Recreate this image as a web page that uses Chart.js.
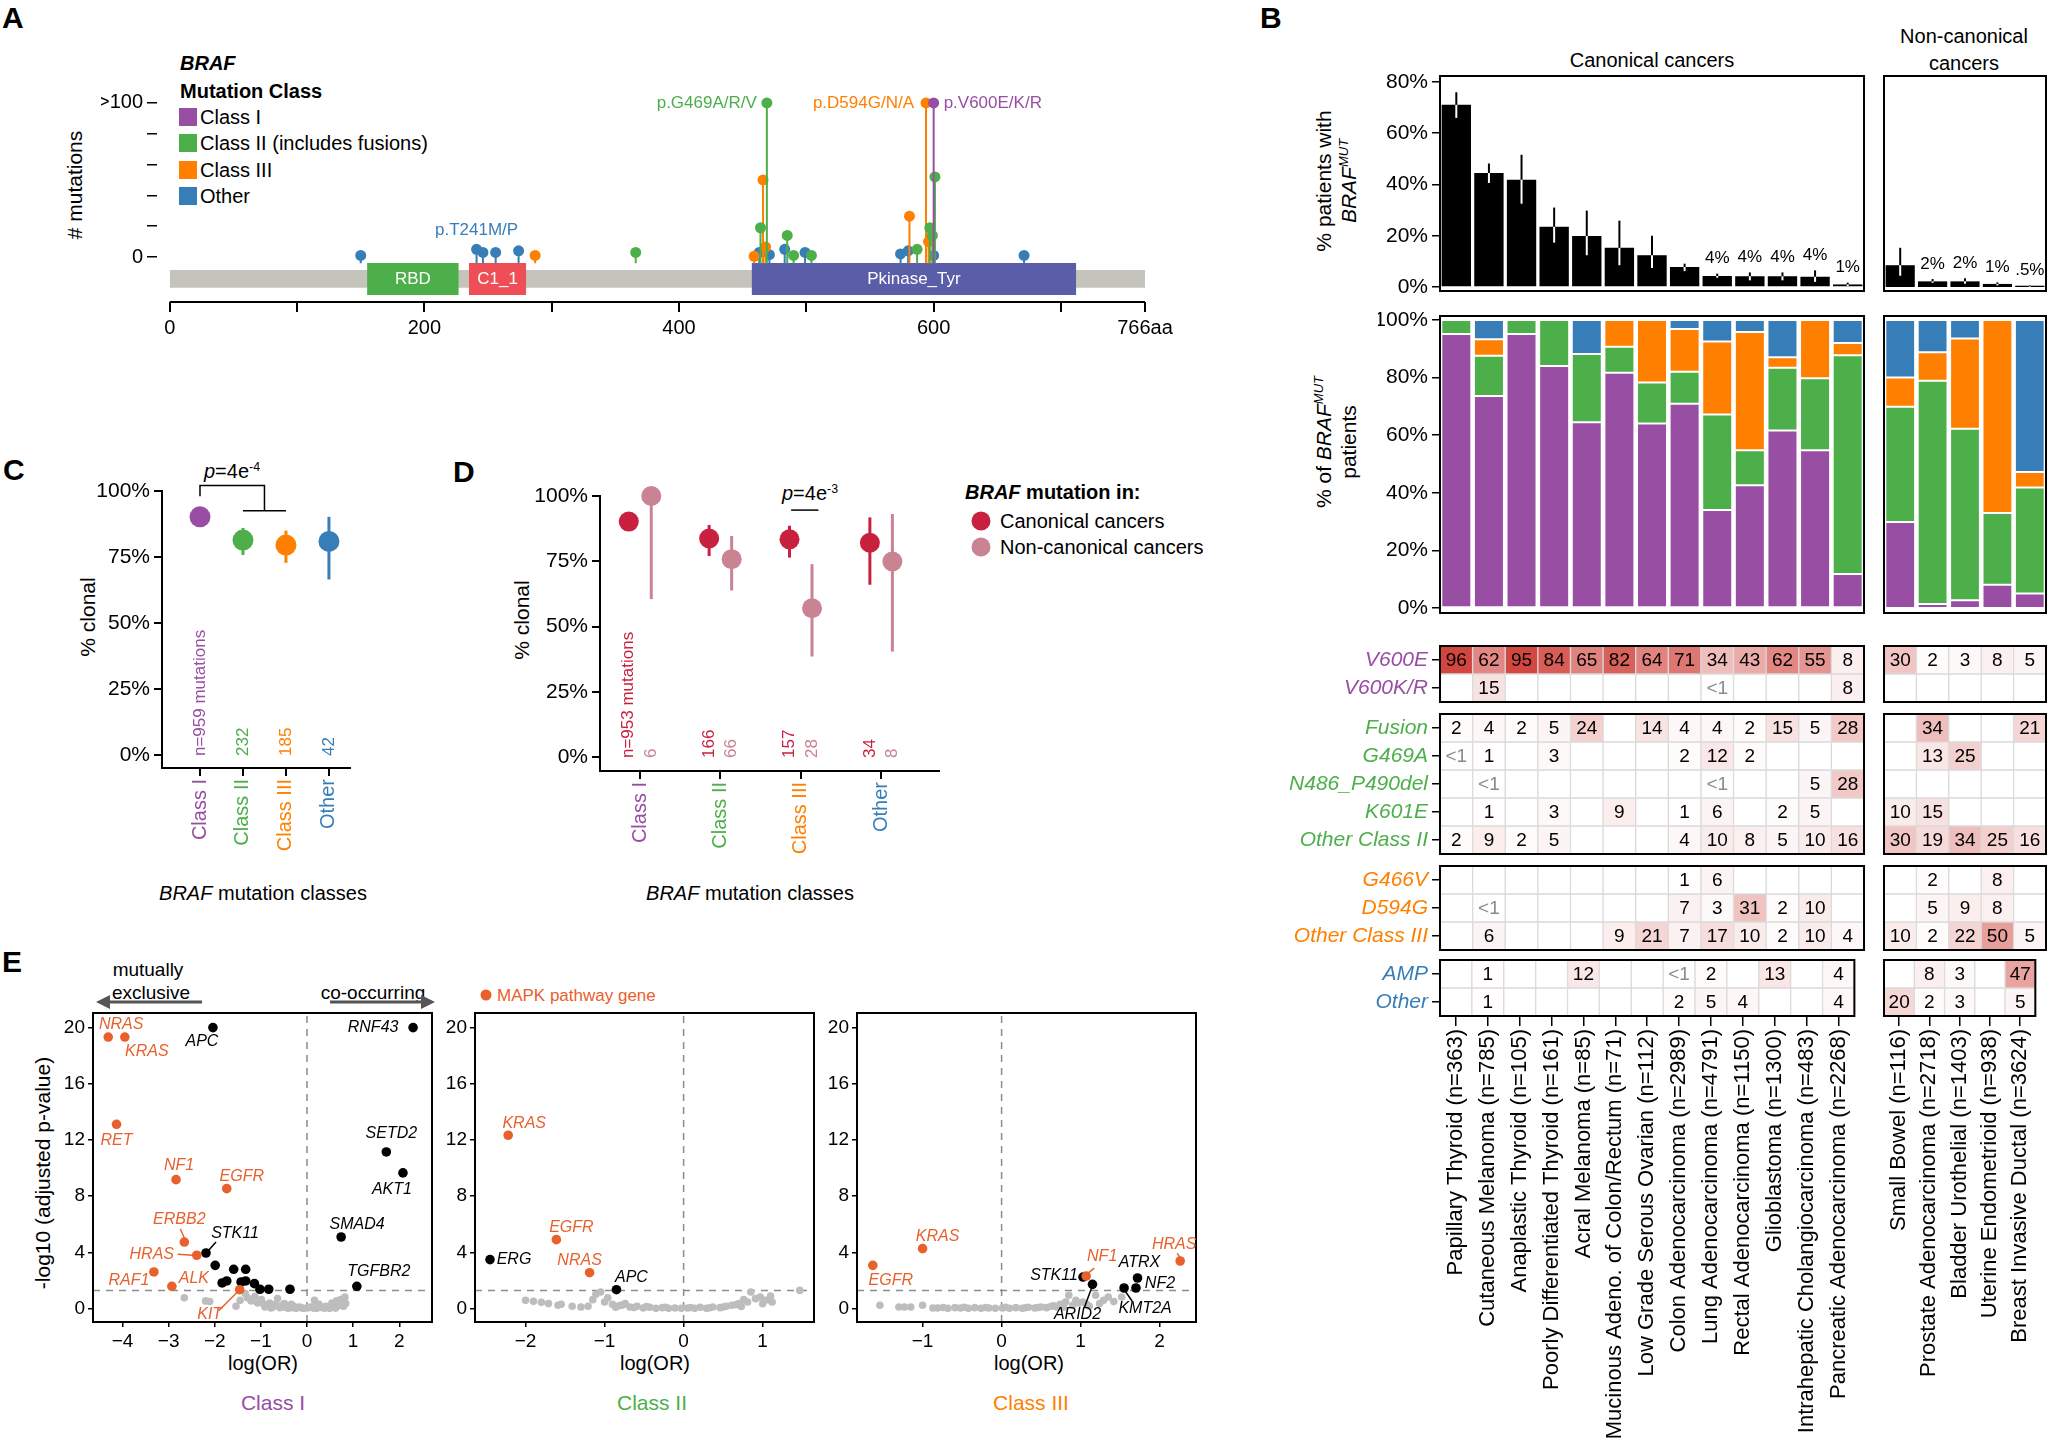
<!DOCTYPE html>
<html lang="en">
<head>
<meta charset="UTF-8" />
<title>BRAF mutation classes across cancers</title>
<script src="https://cdn.jsdelivr.net/npm/chart.js"></script>
<style>
  body { margin: 0; background: #fff; }
  #page { position: relative; width: 2048px; height: 1438px; overflow: hidden; background: #fff;
          font-family: "Liberation Sans", Arial, sans-serif; color: #000; }
  #page canvas { position: absolute; }
  .t { position: absolute; white-space: nowrap; line-height: 1; font-size: 20px; }
  .c { transform: translate(-50%, -50%); text-align: center; }
  .l { transform: translate(0, -50%); }
  .v { transform: translate(-50%, -50%) rotate(-90deg); text-align: center; line-height: 1.2; }
  .letter { font-size: 30px; font-weight: bold; }
  .sw { position: absolute; width: 18px; height: 18px; transform: translate(0, -50%); }
  .dot { position: absolute; border-radius: 50%; transform: translate(-50%, -50%); }
  sup { font-size: 0.62em; vertical-align: 0.6em; line-height: 0; }
</style>
</head>
<body>
<div id="page">
  <div class="t l letter" style="left:2px;top:18px">A</div>
  <div class="t l letter" style="left:1260px;top:18px">B</div>
  <div class="t l letter" style="left:3px;top:470px">C</div>
  <div class="t l letter" style="left:453px;top:472px">D</div>
  <div class="t l letter" style="left:2px;top:962px">E</div>

  <!-- A: legend and axis title -->
  <div class="t l" style="left:180px;top:63px;font-weight:bold;font-style:italic">BRAF</div>
  <div class="t l" style="left:180px;top:91px;font-weight:bold">Mutation Class</div>
  <div class="sw" style="left:179px;top:117px;background:#984ea3"></div>
  <div class="t l" style="left:200px;top:117px">Class I</div>
  <div class="sw" style="left:179px;top:143px;background:#4daf4a"></div>
  <div class="t l" style="left:200px;top:143px">Class II (includes fusions)</div>
  <div class="sw" style="left:179px;top:170px;background:#ff7f00"></div>
  <div class="t l" style="left:200px;top:170px">Class III</div>
  <div class="sw" style="left:179px;top:196px;background:#377eb8"></div>
  <div class="t l" style="left:200px;top:196px">Other</div>
  <div class="t v" style="left:75px;top:185px;font-size:21px"># mutations</div>

  <!-- B: titles -->
  <div class="t c" style="left:1652px;top:60px">Canonical cancers</div>
  <div class="t c" style="left:1964px;top:36px">Non-canonical</div>
  <div class="t c" style="left:1964px;top:63px">cancers</div>
  <div class="t v" style="left:1336px;top:181px;font-size:21px">% patients with<br><i>BRAF<sup>MUT</sup></i></div>
  <div class="t v" style="left:1336px;top:442px;font-size:21px">% of <i>BRAF<sup>MUT</sup></i><br>patients</div>

  <!-- C -->
  <div class="t v" style="left:88px;top:617px;font-size:21px">% clonal</div>
  <div class="t c" style="left:263px;top:893px"><i>BRAF</i> mutation classes</div>
  <div class="t c" style="left:232px;top:471px"><i>p</i>=4e<sup>-4</sup></div>

  <!-- D -->
  <div class="t v" style="left:522px;top:620px;font-size:21px">% clonal</div>
  <div class="t c" style="left:750px;top:893px"><i>BRAF</i> mutation classes</div>
  <div class="t c" style="left:810px;top:493px"><i>p</i>=4e<sup>-3</sup></div>
  <div class="t l" style="left:965px;top:492px;font-weight:bold"><i>BRAF</i> mutation in:</div>
  <div class="dot" style="left:981px;top:521px;width:19px;height:19px;background:#c8203f"></div>
  <div class="t l" style="left:1000px;top:521px">Canonical cancers</div>
  <div class="dot" style="left:981px;top:547px;width:19px;height:19px;background:#c98393"></div>
  <div class="t l" style="left:1000px;top:547px">Non-canonical cancers</div>

  <!-- E -->
  <div class="t c" style="left:148px;top:969px;font-size:19px">mutually</div>
  <div class="t c" style="left:151px;top:992px;font-size:19px">exclusive</div>
  <div class="t c" style="left:373px;top:992px;font-size:19px">co-occurring</div>
  <svg width="2048" height="1438" style="position:absolute;left:0;top:0">
    <g stroke="#555" stroke-width="3" fill="#555">
      <line x1="202" y1="1002" x2="108" y2="1002"/>
      <polygon points="96,1002 110,995 110,1009" stroke="none"/>
      <line x1="330" y1="1002" x2="423" y2="1002"/>
      <polygon points="435,1002 421,995 421,1009" stroke="none"/>
    </g>
  </svg>
  <div class="t v" style="left:43px;top:1173px;font-size:21px">-log10 (adjusted p-value)</div>
  <div class="t c" style="left:263px;top:1363px">log(OR)</div>
  <div class="t c" style="left:655px;top:1363px">log(OR)</div>
  <div class="t c" style="left:1029px;top:1363px">log(OR)</div>
  <div class="t c" style="left:273px;top:1402px;font-size:21px;color:#984ea3">Class I</div>
  <div class="t c" style="left:652px;top:1402px;font-size:21px;color:#4daf4a">Class II</div>
  <div class="t c" style="left:1031px;top:1402px;font-size:21px;color:#ff7f00">Class III</div>
  <div class="dot" style="left:486px;top:995px;width:11px;height:11px;background:#e8602c"></div>
  <div class="t l" style="left:497px;top:995px;font-size:17px;color:#e8602c">MAPK pathway gene</div>
</div>

<script>
  // ---------- A: lollipop plot ----------
  const proteinLength = 766;
  const domainNames = ['RBD', 'C1_1', 'Pkinase_Tyr'];
  const domainStart = [155, 235, 457];
  const domainEnd = [227, 280, 712];
  const mutPos   = [150, 241, 246, 256, 274, 287, 366, 459, 463, 464, 466, 468, 469, 471, 483, 485, 490, 499, 504, 574, 580, 581, 587, 594, 596, 597, 599, 600, 600, 601, 671];
  const mutCount = [1, 5, 3, 3, 4, 1, 3, 0.5, 3, 19, 50, 6.5, 100, 1.5, 5, 14, 1, 3, 1, 2, 4, 26.5, 5, 100, 10, 19, 14, 1, 100, 52, 1];
  const mutClass = ['Other', 'Other', 'Other', 'Other', 'Other', 'III', 'II', 'III', 'Other', 'II', 'III', 'III', 'II', 'Other', 'Other',
                    'II', 'II', 'Other', 'II', 'Other', 'Other', 'III', 'II', 'III', 'III', 'II', 'II', 'Other', 'I', 'II', 'Other'];
  const hotspotNames = ['p.T241M/P', 'p.G469A/R/V', 'p.D594G/N/A', 'p.V600E/K/R'];
  const hotspotPos = [241, 469, 594, 600];
  const hotspotClass = ['Other', 'II', 'III', 'I'];
  const aTicks = [0, 100, 200, 300, 400, 500, 600, 700, 766];
  const aTickText = ['0', '', '200', '', '400', '', '600', '', '766aa'];
  const aYTicks = [0, 20, 40, 60, 80, 100];
  const aYTickText = ['0', '', '', '', '', '>100'];

  // ---------- B: prevalence, class mix, variant heatmap ----------
  const canonCancers = ['Papillary Thyroid (n=363)', 'Cutaneous Melanoma (n=785)', 'Anaplastic Thyroid (n=105)',
    'Poorly Differentiated Thyroid (n=161)', 'Acral Melanoma (n=85)', 'Mucinous Adeno. of Colon/Rectum (n=71)',
    'Low Grade Serous Ovarian (n=112)', 'Colon Adenocarcinoma (n=2989)', 'Lung Adenocarcinoma (n=4791)',
    'Rectal Adenocarcinoma (n=1150)', 'Glioblastoma (n=1300)', 'Intrahepatic Cholangiocarcinoma (n=483)',
    'Pancreatic Adenocarcinoma (n=2268)'];
  const nonCancers = ['Small Bowel (n=116)', 'Prostate Adenocarcinoma (n=2718)', 'Bladder Urothelial (n=1403)',
    'Uterine Endometrioid (n=938)', 'Breast Invasive Ductal (n=3624)'];

  const canonPct   = [71.1, 44.5, 41.9, 23.5, 19.9, 15.3, 12.4, 7.8, 4.3, 4.2, 4.2, 4.0, 1.0];
  const canonPctLo = [66, 40.6, 32.5, 17.3, 12.4, 8.5, 7.4, 6.2, 3.6, 2.6, 2.6, 2.0, 0.4];
  const canonPctHi = [76, 48.2, 51.6, 31, 29.8, 25.9, 20, 9.1, 5.2, 5.7, 5.7, 6.5, 1.7];
  const canonPctText = [null, null, null, null, null, null, null, null, '4%', '4%', '4%', '4%', '1%'];
  const nonPct   = [8.5, 2.2, 2.2, 1.2, 0.5];
  const nonPctLo = [4.4, 1.6, 1.3, 0.65, 0.15];
  const nonPctHi = [15.3, 3.1, 3.4, 1.8, 0.65];
  const nonPctText = [null, '2%', '2%', '1%', '.5%'];
  const pctTicks = [0, 20, 40, 60, 80];

  const canonClassI   = [95.1, 73.6, 95.1, 84, 64.5, 81.7, 64.1, 70.9, 34, 42.6, 61.6, 54.8, 11.8];
  const canonClassII  = [4.9, 14, 4.9, 16, 23.7, 9, 14.2, 11.1, 33.2, 12.2, 21.8, 25, 76];
  const canonClassIII = [0, 5.7, 0, 0, 0, 9.3, 21.7, 14.9, 25.3, 41, 3.7, 20.2, 4.2];
  const canonOther    = [0, 6.7, 0, 0, 11.8, 0, 0, 3.1, 7.5, 4.2, 12.9, 0, 8];
  const nonClassI   = [29.9, 1.4, 2.7, 8.1, 5];
  const nonClassII  = [40, 77.5, 59.5, 24.9, 36.8];
  const nonClassIII = [10.1, 9.9, 31.4, 67, 5.4];
  const nonOther    = [20, 11.2, 6.4, 0, 52.8];
  const mixTicks = [0, 20, 40, 60, 80, 100];

  const _ = null, LT1 = 0.5;   // LT1 marks a "<1" cell
  const heatRows = ['V600E', 'V600K/R', 'Fusion', 'G469A', 'N486_P490del', 'K601E', 'Other Class II',
                    'G466V', 'D594G', 'Other Class III', 'AMP', 'Other'];
  const heatRowClass = ['I', 'I', 'II', 'II', 'II', 'II', 'II', 'III', 'III', 'III', 'Other', 'Other'];
  const v600eCanon    = [96, 62, 95, 84, 65, 82, 64, 71, 34, 43, 62, 55, 8];
  const v600krCanon   = [_, 15, _, _, _, _, _, _, LT1, _, _, _, 8];
  const fusionCanon   = [2, 4, 2, 5, 24, _, 14, 4, 4, 2, 15, 5, 28];
  const g469aCanon    = [LT1, 1, _, 3, _, _, _, 2, 12, 2, _, _, _];
  const n486Canon     = [_, LT1, _, _, _, _, _, _, LT1, _, _, 5, 28];
  const k601eCanon    = [_, 1, _, 3, _, 9, _, 1, 6, _, 2, 5, _];
  const otherIICanon  = [2, 9, 2, 5, _, _, _, 4, 10, 8, 5, 10, 16];
  const g466vCanon    = [_, _, _, _, _, _, _, 1, 6, _, _, _, _];
  const d594gCanon    = [_, LT1, _, _, _, _, _, 7, 3, 31, 2, 10, _];
  const otherIIICanon = [_, 6, _, _, _, 9, 21, 7, 17, 10, 2, 10, 4];
  const ampCanon      = [_, 1, _, _, 12, _, _, LT1, 2, _, 13, _, 4];
  const otherCanon    = [_, 1, _, _, _, _, _, 2, 5, 4, _, _, 4];
  const v600eNon    = [30, 2, 3, 8, 5];
  const v600krNon   = [_, _, _, _, _];
  const fusionNon   = [_, 34, _, _, 21];
  const g469aNon    = [_, 13, 25, _, _];
  const n486Non     = [_, _, _, _, _];
  const k601eNon    = [10, 15, _, _, _];
  const otherIINon  = [30, 19, 34, 25, 16];
  const g466vNon    = [_, 2, _, 8, _];
  const d594gNon    = [_, 5, 9, 8, _];
  const otherIIINon = [10, 2, 22, 50, 5];
  const ampNon      = [_, 8, 3, _, 47];
  const otherNon    = [20, 2, 3, _, 5];

  // ---------- C / D: clonality ----------
  const clonalClasses = ['Class I', 'Class II', 'Class III', 'Other'];
  const clonalTicks = [0, 25, 50, 75, 100];
  const cClonal = [90.2, 81.4, 79.5, 80.9];
  const cLo = [88.3, 75.8, 72.8, 66.5];
  const cHi = [92, 86, 85, 90.2];
  const cN = ['n=959 mutations', '232', '185', '42'];
  const dCanon   = [90.2, 83.7, 83.4, 82.1];
  const dCanonLo = [88.5, 77, 76.4, 66];
  const dCanonHi = [92, 88.9, 88.6, 91.8];
  const dNon   = [100, 75.8, 57, 74.9];
  const dNonLo = [60.5, 63.8, 38.5, 40.4];
  const dNonHi = [100, 84.7, 73.9, 93.1];
  const dCanonN = ['n=953 mutations', '166', '157', '34'];
  const dNonN = ['6', '66', '28', '8'];

  // ---------- E: co-mutation volcano plots ----------
  const eYTicks = [0, 4, 8, 12, 16, 20];
  const sigLine = 1.3;   // -log10(0.05)
  const e1XTicks = [-4, -3, -2, -1, 0, 1, 2];
  const e1MapkGenes = ['NRAS', 'KRAS', 'RET', 'NF1', 'EGFR', 'ERBB2', 'HRAS', 'RAF1', 'ALK', 'KIT'];
  const e1MapkX = [-4.31, -3.95, -4.13, -2.84, -1.74, -2.66, -2.39, -3.32, -2.93, -1.46];
  const e1MapkY = [19.33, 19.33, 13.12, 9.18, 8.54, 4.74, 3.80, 2.61, 1.59, 1.35];
  const e1SigGenes = ['APC', 'RNF43', 'SETD2', 'AKT1', 'SMAD4', 'TGFBR2', 'STK11', '', '', '', '', '', '', '', '', '', '', ''];
  const e1SigX = [-2.04, 2.30, 1.72, 2.08, 0.74, 1.08, -2.19, -1.99, -1.59, -1.33, -1.84, -1.74, -1.43, -1.33, -1.14, -1.02, -0.83, -0.37];
  const e1SigY = [20, 20, 11.15, 9.66, 5.10, 1.59, 3.96, 3.08, 2.80, 2.80, 1.83, 1.97, 1.90, 1.97, 1.78, 1.38, 1.38, 1.38];
  const e1GrayX = [-2.66, -2.2, -2.11, -1.54, -1.45, -1.34, -1.29, -1.21, -1.13, -1.07, -0.99, -0.93, -0.88, -0.81, -0.74,
    -0.64, -0.59, -0.5, -0.41, -0.33, -0.24, -0.16, -0.07, 0.01, 0.1, 0.16, 0.21, 0.26, 0.34, 0.41, 0.48, 0.54, 0.59,
    0.64, 0.69, 0.73, 0.79, 0.82, 0.84, -0.34, -0.49, -0.91, -0.78, -0.69, -0.55, -0.45, -0.28, -0.2, -0.11, 0.05, 0.14,
    0.3, 0.38, 0.45, 0.52, 0.62, 0.7, 0.76];
  const e1GrayY = [0.78, 0.55, 0.5, 0.17, 0.59, 1.07, 0.78, 0.55, 0.88, 0.4, 0.64, 0.31, 0.17, 0.4, 0.12, 0.71, 0.07, 0.12,
    0.02, 0.07, 0.02, 0.12, 0.02, 0.05, 0.12, 0.59, 0.02, 0.31, 0.07, 0.17, 0.02, 0.4, 0.12, 0.55, 0.24, 0.64, 0.17, 0.83,
    0.36, 0.31, 0.36, 0.12, 0.05, 0.3, 0.2, 0.1, 0.15, 0.08, 0.05, 0.1, 0.04, 0.1, 0.04, 0.12, 0.06, 0.04, 0.45, 0.3];

  const e2XTicks = [-2, -1, 0, 1];
  const e2MapkGenes = ['KRAS', 'EGFR', 'NRAS'];
  const e2MapkX = [-2.22, -1.61, -1.19];
  const e2MapkY = [12.34, 4.91, 2.56];
  const e2SigGenes = ['ERG', 'APC'];
  const e2SigX = [-2.45, -0.85];
  const e2SigY = [3.49, 1.35];
  const e2GrayX = [-2.0, -1.9, -1.8, -1.71, -1.59, -1.55, -1.41, -1.3, -1.21, -1.15, -1.11, -1.05, -1.0, -0.96, -0.9, -0.82,
    -0.74, -0.68, -0.59, -0.51, -0.43, -0.35, -0.27, -0.19, -0.11, -0.03, 0.05, 0.14, 0.21, 0.29, 0.37, 0.46, 0.54, 0.61,
    0.7, 0.76, 0.81, 0.85, 0.91, 0.97, 1.03, 1.08, 1.12, 1.47, -0.86, -0.78, -0.63, -0.47, -0.23, 0.09, 0.33, 0.5, 0.66,
    0.73, 1.0, 1.1];
  const e2GrayY = [0.59, 0.52, 0.45, 0.36, 0.24, 0.31, 0.17, 0.12, 0.17, 0.64, 1.02, 1.19, 0.47, 0.78, 0.31, 0.21, 0.36,
    0.12, 0.17, 0.05, 0.1, 0.02, 0.07, 0.02, 0.05, 0.02, 0.05, 0.02, 0.1, 0.02, 0.12, 0.07, 0.17, 0.24, 0.36, 0.64, 0.47,
    1.19, 0.71, 0.83, 0.59, 0.64, 0.47, 1.3, 0.1, 0.25, 0.08, 0.15, 0.1, 0.08, 0.06, 0.12, 0.28, 0.15, 0.35, 0.9];

  const e3XTicks = [-1, 0, 1, 2];
  const e3MapkGenes = ['EGFR', 'KRAS', 'NF1', 'HRAS'];
  const e3MapkX = [-1.63, -1.0, 1.07, 2.26];
  const e3MapkY = [3.08, 4.27, 2.32, 3.39];
  const e3SigGenes = ['STK11', 'ARID2', 'ATRX', 'NF2', 'KMT2A'];
  const e3SigX = [1.03, 1.15, 1.72, 1.70, 1.55];
  const e3SigY = [2.25, 1.73, 2.18, 1.47, 1.47];
  const e3GrayX = [-1.54, -1.3, -1.23, -1.15, -1.0, -0.87, -0.81, -0.68, -0.59, -0.52, -0.42, -0.34, -0.26, -0.16, -0.08,
    0.01, 0.1, 0.18, 0.26, 0.34, 0.42, 0.5, 0.57, 0.63, 0.7, 0.74, 0.81, 0.85, 0.9, 0.98, 1.03, 1.11, 1.19, 1.24, 1.29,
    1.35, 1.52, -0.74, -0.47, -0.2, 0.05, 0.3, 0.46, 0.66, 0.78, 0.94, 1.08, 1.42];
  const e3GrayY = [0.24, 0.12, 0.12, 0.12, 0.24, 0.05, 0.05, 0.02, 0.07, 0.05, 0.02, 0.07, 0.02, 0.05, 0.02, 0.05, 0.02,
    0.07, 0.02, 0.1, 0.05, 0.12, 0.07, 0.17, 0.12, 0.31, 0.47, 0.95, 0.24, 0.4, 0.47, 0.17, 0.95, 0.36, 0.59, 0.83, 0.83,
    0.08, 0.1, 0.08, 0.1, 0.06, 0.08, 0.2, 0.1, 0.6, 0.3, 0.5];

  // ---------- styling ----------
  const FONT = '"Liberation Sans", Arial, sans-serif';
  const CLS = { I: '#984ea3', II: '#4daf4a', III: '#ff7f00', Other: '#377eb8' };
  const CLASS_KEYS = ['I', 'II', 'III', 'Other'];
  const DOMAIN_COLORS = ['#4daf4a', '#ee4f57', '#5a5ea8'];
  const MAPK = '#e8602c';
  const CANON = '#c8203f', NONCANON = '#c98393';

  Chart.defaults.font.family = FONT;
  Chart.defaults.font.size = 20;
  Chart.defaults.color = '#000';
  Chart.defaults.animation = false;
  Chart.defaults.responsive = false;
  Chart.defaults.events = [];
  Chart.defaults.plugins.legend.display = false;
  Chart.defaults.plugins.tooltip.enabled = false;

  const page = document.getElementById('page');

  // put a canvas so that its chart area lands on `area` ([x0, y0, x1, y1] in page px)
  function mount(area, pad, yW, xH) {
    const [x0, y0, x1, y1] = area;
    const w = Math.round(x1 - x0 + pad.left + pad.right + yW);
    const h = Math.round(y1 - y0 + pad.top + pad.bottom + xH);
    const c = document.createElement('canvas');
    c.width = w; c.height = h;
    c.style.left = (x0 - pad.left - yW) + 'px';
    c.style.top = (y0 - pad.top) + 'px';
    c.style.width = w + 'px';
    c.style.height = h + 'px';
    page.appendChild(c);
    return c;
  }
  const lay = pad => ({ padding: pad, autoPadding: false });
  const tickGrid = (len, lw) => ({ drawOnChartArea: false, drawTicks: true, tickLength: len, color: '#000', lineWidth: lw || 1.5 });
  const setTicks = vals => s => { s.ticks = vals.map(v => ({ value: v })); };

  function heat(v) {
    if (v == null) return '#ffffff';
    const t = Math.min(v, 100) / 100;
    return `rgb(${Math.round(255 - 47 * t)},${Math.round(255 - 193 * t)},${Math.round(255 - 200 * t)})`;
  }

  // ---------- plugins ----------
  const frame = lw => ({
    id: 'frame',
    afterDatasetsDraw(chart) {
      const { ctx, chartArea: a } = chart;
      ctx.save();
      ctx.strokeStyle = '#000';
      ctx.lineWidth = lw || 2;
      ctx.strokeRect(a.left, a.top, a.width, a.height);
      ctx.restore();
    }
  });

  function drawErr(chart, onTop) {
    const { ctx } = chart, sy = chart.scales.y;
    chart.data.datasets.forEach((ds, di) => {
      if (!ds.errLo || !!ds.errInside !== onTop) return;
      chart.getDatasetMeta(di).data.forEach((el, i) => {
        const col = Array.isArray(ds.errColor) ? ds.errColor[i] : ds.errColor;
        const lo = sy.getPixelForValue(ds.errLo[i]), hi = sy.getPixelForValue(ds.errHi[i]);
        ctx.save();
        ctx.lineWidth = ds.errWidth || 2;
        ctx.strokeStyle = col;
        ctx.beginPath(); ctx.moveTo(el.x, lo); ctx.lineTo(el.x, hi); ctx.stroke();
        if (ds.errInside) {
          ctx.strokeStyle = ds.errInside;
          ctx.beginPath(); ctx.moveTo(el.x, lo); ctx.lineTo(el.x, Math.max(el.y, hi)); ctx.stroke();
        }
        if (ds.topLabels && ds.topLabels[i]) {
          ctx.fillStyle = '#000';
          ctx.font = '17px ' + FONT;
          ctx.textAlign = 'center';
          ctx.textBaseline = 'middle';
          ctx.fillText(ds.topLabels[i], el.x, hi - 15);
        }
        ctx.restore();
      });
    });
  }
  const errPlugin = {
    id: 'err',
    beforeDatasetsDraw(chart) { drawErr(chart, false); },
    afterDatasetsDraw(chart) { drawErr(chart, true); }
  };

  const cellText = {
    id: 'cellText',
    afterDatasetsDraw(chart) {
      const { ctx } = chart;
      chart.data.datasets.forEach((ds, di) => {
        chart.getDatasetMeta(di).data.forEach((el, i) => {
          const v = ds.values[i];
          if (v == null) return;
          ctx.save();
          ctx.font = '19px ' + FONT;
          ctx.fillStyle = v < 1 ? '#8a8a8a' : '#000';
          ctx.textAlign = 'center';
          ctx.textBaseline = 'middle';
          ctx.fillText(v < 1 ? '<1' : String(v), el.x, (el.y + el.base) / 2 + 1);
          ctx.restore();
        });
      });
    }
  };

  // text and leader lines anchored on data coordinates
  function annot(items, leaders) {
    return {
      id: 'annot',
      afterDatasetsDraw(chart) {
        const { ctx } = chart, sx = chart.scales.x, sy = chart.scales.y;
        ctx.save();
        (leaders || []).forEach(l => {
          const px = sx.getPixelForValue(l.x), py = sy.getPixelForValue(l.y);
          ctx.strokeStyle = l.color;
          ctx.lineWidth = 1.5;
          ctx.beginPath();
          ctx.moveTo(px + l.from[0], py + l.from[1]);
          ctx.lineTo(px + l.to[0], py + l.to[1]);
          ctx.stroke();
        });
        items.forEach(it => {
          const px = sx.getPixelForValue(it.x) + (it.dx || 0);
          const py = sy.getPixelForValue(it.y) + (it.dy || 0);
          ctx.font = it.font;
          ctx.fillStyle = it.color;
          ctx.textAlign = it.align || 'center';
          ctx.textBaseline = 'middle';
          if (it.rotate) {
            ctx.save(); ctx.translate(px, py); ctx.rotate(it.rotate);
            ctx.fillText(it.text, 0, 0); ctx.restore();
          } else {
            ctx.fillText(it.text, px, py);
          }
        });
        ctx.restore();
      }
    };
  }

  // ================= Panel A =================
  (function panelA() {
    const X_MIN = -10, Y_MIN = -29.2, Y_MAX = 108.4, STEM_BASE = -4;
    const area = [157.3, 90, 1145, 302];
    const pad = { left: 10, right: 32, top: 16, bottom: 4 };
    const c = mount(area, pad, 56, 46);

    const stems = cls => {
      const pts = [];
      mutPos.forEach((p, i) => {
        if (mutClass[i] === cls) pts.push({ x: p, y: STEM_BASE }, { x: p, y: mutCount[i] }, { x: p, y: null });
      });
      return pts;
    };
    const box = (x0, x1, top, bottom, color, order, label) => ({
      label, data: [{ x: x0, y: top }, { x: x1, y: top }], fill: { value: bottom },
      backgroundColor: color, borderWidth: 0, pointRadius: 0, order
    });
    const datasets = [
      box(0, proteinLength, -8.4, -20, '#c4c4bc', 20, 'protein'),
      ...domainNames.map((n, i) => box(domainStart[i], domainEnd[i], -3.9, -24.6, DOMAIN_COLORS[i], 19, n)),
      { label: 'axis', data: [{ x: 0, y: Y_MIN }, { x: proteinLength, y: Y_MIN }], borderColor: '#000',
        borderWidth: 2, pointRadius: 0, clip: false, order: 18 },
      ...['Other', 'III', 'II', 'I'].map((cls, k) => ({
        label: cls, data: stems(cls), borderColor: CLS[cls], borderWidth: 2,
        pointRadius: ctx => (ctx.dataIndex % 3 === 1 ? 5.5 : 0),
        pointBackgroundColor: CLS[cls], pointBorderWidth: 0, spanGaps: false, clip: false, order: 4 - k
      }))
    ];

    const HOT_OFFSET = [[0, -19, 'center'], [-10, 0, 'right'], [-12, 0, 'right'], [10, 0, 'left']];
    const items = hotspotNames.map((t, i) => {
      const j = mutPos.findIndex((p, k) => p === hotspotPos[i] && mutClass[k] === hotspotClass[i]);
      return { x: hotspotPos[i], y: mutCount[j], text: t, color: CLS[hotspotClass[i]], font: '17px ' + FONT,
               dx: HOT_OFFSET[i][0], dy: HOT_OFFSET[i][1], align: HOT_OFFSET[i][2] };
    });
    domainNames.forEach((n, i) => items.push({ x: (domainStart[i] + domainEnd[i]) / 2, y: -14.2, text: n,
      color: '#fff', font: '17px ' + FONT }));

    new Chart(c, {
      type: 'line',
      data: { datasets },
      options: {
        layout: lay(pad),
        scales: {
          x: { type: 'linear', min: X_MIN, max: proteinLength, afterBuildTicks: setTicks(aTicks),
               ticks: { callback: (v, i) => aTickText[i], padding: 4, font: { size: 20 } },
               grid: tickGrid(10, 2), border: { display: false }, afterFit: s => { s.height = 46; } },
          y: { min: Y_MIN, max: Y_MAX, afterBuildTicks: setTicks(aYTicks),
               ticks: { callback: (v, i) => aYTickText[i], padding: 4, font: { size: 20 } },
               grid: tickGrid(10, 1.5), border: { display: false }, afterFit: s => { s.width = 56; } }
        }
      },
      plugins: [annot(items)]
    });
  })();

  // ================= Panel B =================
  const PAD_B = { left: 4, right: 4, top: 18, bottom: 18 };
  const CANON_X = [1440, 1864], NON_X = [1884, 2046];

  function pctY(show, min, max, ticks, yW) {
    const y = { min, max, display: show, afterBuildTicks: setTicks(ticks),
      ticks: { callback: v => v + '%', font: { size: 21 }, padding: 4 },
      grid: tickGrid(8, 1.5), border: { display: false } };
    if (show) y.afterFit = s => { s.width = yW; };
    return y;
  }

  function pctBars(xr, labels, vals, lo, hi, tops, show) {
    const yW = show ? 62 : 0;
    const c = mount([xr[0], 76, xr[1], 291], PAD_B, yW, 0);
    new Chart(c, {
      type: 'bar',
      data: { labels, datasets: [{ data: vals, backgroundColor: '#000', barPercentage: 0.9, categoryPercentage: 1,
        errLo: lo, errHi: hi, errColor: '#000', errInside: '#fff', errWidth: 2, topLabels: tops }] },
      options: { layout: lay(PAD_B), scales: { x: { display: false }, y: pctY(show, -1.56, 82.34, pctTicks, yW) } },
      plugins: [errPlugin, frame(2)]
    });
  }

  function mixBars(xr, labels, series, show) {
    const yW = show ? 62 : 0;
    const c = mount([xr[0], 316, xr[1], 613], PAD_B, yW, 0);
    new Chart(c, {
      type: 'bar',
      data: { labels, datasets: series.map((d, k) => ({ data: d, backgroundColor: CLS[CLASS_KEYS[k]],
        borderColor: '#fff', borderWidth: 1, borderSkipped: false, barPercentage: 0.92, categoryPercentage: 1 })) },
      options: { layout: lay(PAD_B), scales: { x: { display: false, stacked: true },
        y: Object.assign(pctY(show, -1.74, 101.39, mixTicks, yW), { stacked: true }) } },
      plugins: [frame(2)]
    });
  }

  const heatCanon = [v600eCanon, v600krCanon, fusionCanon, g469aCanon, n486Canon, k601eCanon, otherIICanon,
                     g466vCanon, d594gCanon, otherIIICanon, ampCanon, otherCanon];
  const heatNon = [v600eNon, v600krNon, fusionNon, g469aNon, n486Non, k601eNon, otherIINon,
                   g466vNon, d594gNon, otherIIINon, ampNon, otherNon];
  const HEAT_GROUPS = [[0, 2], [2, 7], [7, 10], [10, 12]];
  const HEAT_Y = [[646, 702], [714, 854], [866, 950], [960, 1016]];

  function heatChart(xr, g, canon, showX) {
    const [r0, r1] = HEAT_GROUPS[g];
    const rows = heatRows.slice(r0, r1);
    const rowCls = heatRowClass.slice(r0, r1);
    const vals = (canon ? heatCanon : heatNon).slice(r0, r1);
    const yW = canon ? 170 : 0, xH = showX ? 440 : 0;
    // padding above/below must exceed half a tick label, otherwise Chart.js shrinks the area
    const pad = { left: 4, right: 4, top: 20, bottom: showX ? 0 : 20 };
    const c = mount([xr[0], HEAT_Y[g][0], xr[1], HEAT_Y[g][1]], pad, yW, xH);
    const y = { type: 'linear', min: 0, max: rows.length, reverse: true, display: canon,
      afterBuildTicks: setTicks(rows.map((r, i) => i + 0.5)),
      ticks: { callback: (v, i) => rows[i], color: ctx => CLS[rowCls[ctx.index]], padding: 4,
               font: { size: 21, style: 'italic' } },
      grid: tickGrid(8, 1.5), border: { display: false } };
    if (canon) y.afterFit = s => { s.width = yW; };
    const x = showX ? { offset: true, grid: Object.assign(tickGrid(10, 1.5), { offset: false }), border: { display: false },
      ticks: { autoSkip: false, minRotation: 90, maxRotation: 90, padding: 3, font: { size: 22 } },
      afterFit: s => { s.height = xH; } } : { display: false };
    new Chart(c, {
      type: 'bar',
      data: { labels: canon ? canonCancers : nonCancers, datasets: vals.map((v, r) => ({
        data: v.map(() => [r, r + 1]), values: v, backgroundColor: v.map(heat),
        borderColor: '#dadada', borderWidth: 1, borderSkipped: false,
        barPercentage: 1, categoryPercentage: 1, grouped: false })) },
      options: { layout: lay(pad), scales: { x, y } },
      plugins: [cellText, frame(2)]
    });
  }

  pctBars(CANON_X, canonCancers, canonPct, canonPctLo, canonPctHi, canonPctText, true);
  pctBars(NON_X, nonCancers, nonPct, nonPctLo, nonPctHi, nonPctText, false);
  mixBars(CANON_X, canonCancers, [canonClassI, canonClassII, canonClassIII, canonOther], true);
  mixBars(NON_X, nonCancers, [nonClassI, nonClassII, nonClassIII, nonOther], false);
  [0, 1, 2, 3].forEach(g => {
    heatChart(CANON_X, g, true, g === 3);
    heatChart(NON_X, g, false, g === 3);
  });

  // ================= Panels C and D =================
  const classColors = CLASS_KEYS.map(k => CLS[k]);
  function clonalX(min, max, xH) {
    return { type: 'linear', min, max, afterBuildTicks: setTicks(clonalClasses.map((n, i) => i + 1)),
      ticks: { autoSkip: false, minRotation: 90, maxRotation: 90, padding: 3, font: { size: 20 },
               callback: (v, i) => clonalClasses[i], color: ctx => classColors[ctx.index] },
      grid: tickGrid(8, 2), border: { display: true, color: '#000', width: 2 },
      afterFit: s => { s.height = xH; } };
  }
  function clonalY(min, yW) {
    return { min, max: 100, afterBuildTicks: setTicks(clonalTicks),
      ticks: { callback: v => v + '%', font: { size: 21 }, padding: 4 },
      grid: tickGrid(8, 2), border: { display: true, color: '#000', width: 2 },
      afterFit: s => { s.width = yW; } };
  }
  const nLabel = (x, text, color) => ({ x, y: 0, text, color, font: '17px ' + FONT, align: 'left',
                                        rotate: -Math.PI / 2, dy: 1 });
  const bracket = pts => ({ data: pts, borderColor: '#000', borderWidth: 1.5, pointRadius: 0, clip: false, order: 5 });

  (function panelC() {
    const pad = { left: 12, right: 14, top: 32, bottom: 4 };
    const c = mount([162, 491, 350, 768], pad, 76, 100);
    new Chart(c, {
      type: 'line',
      data: { datasets: [
        { data: cClonal.map((v, i) => ({ x: i + 1, y: v })), showLine: false, pointRadius: 10.5,
          pointBackgroundColor: classColors, pointBorderWidth: 0, clip: false,
          errLo: cLo, errHi: cHi, errColor: classColors, errWidth: 3, order: 1 },
        bracket([{ x: 1, y: 98 }, { x: 1, y: 102.1 }, { x: 2.5, y: 102.1 }, { x: 2.5, y: 92.5 }]),
        bracket([{ x: 2, y: 92.5 }, { x: 3, y: 92.5 }])
      ] },
      options: { layout: lay(pad), scales: { x: clonalX(0.116, 4.49, 100), y: clonalY(-4.92, 76) } },
      plugins: [errPlugin, annot(cN.map((t, i) => nLabel(i + 1, t, classColors[i])))]
    });
  })();

  (function panelD() {
    const OFF = 0.14;
    const pad = { left: 12, right: 14, top: 32, bottom: 4 };
    const c = mount([600, 496, 939, 771], pad, 76, 100);
    const items = [
      ...dCanonN.map((t, i) => nLabel(i + 1 - OFF, t, CANON)),
      ...dNonN.map((t, i) => nLabel(i + 1 + OFF, t, NONCANON))
    ];
    new Chart(c, {
      type: 'line',
      data: { datasets: [
        { data: dCanon.map((v, i) => ({ x: i + 1 - OFF, y: v })), showLine: false, pointRadius: 10,
          pointBackgroundColor: CANON, pointBorderWidth: 0, clip: false,
          errLo: dCanonLo, errHi: dCanonHi, errColor: CANON, errWidth: 3, order: 1 },
        { data: dNon.map((v, i) => ({ x: i + 1 + OFF, y: v })), showLine: false, pointRadius: 10,
          pointBackgroundColor: NONCANON, pointBorderWidth: 0, clip: false,
          errLo: dNonLo, errHi: dNonHi, errColor: NONCANON, errWidth: 3, order: 2 },
        bracket([{ x: 2.88, y: 94.6 }, { x: 3.22, y: 94.6 }])
      ] },
      options: { layout: lay(pad), scales: { x: clonalX(0.502, 4.72, 100), y: clonalY(-5.36, 76) } },
      plugins: [errPlugin, annot(items)]
    });
  })();

  // ================= Panel E =================
  const E_YMIN = -0.95, E_YMAX = 21.04;
  function volcano(area, xMin, xMax, xTicks, gray, sig, mapk, offs, leads) {
    const pad = { left: 8, right: 10, top: 16, bottom: 4 };
    const c = mount(area, pad, 42, 34);
    const pts = (xs, ys) => xs.map((x, i) => ({ x, y: ys[i] }));
    const dash = d => ({ data: d, borderColor: '#8c8c8c', borderWidth: 1.5, borderDash: [7, 6], pointRadius: 0, order: 6 });
    const dots = (d, r, col, order) => ({ data: d, showLine: false, pointRadius: r, pointBackgroundColor: col,
                                          pointBorderWidth: 0, order });
    const items = [], leaders = [];
    const addLabels = (genes, xs, ys, color) => genes.forEach((g, i) => {
      if (!g) return;
      const o = offs[g] || [0, -12];
      items.push({ x: xs[i], y: ys[i], text: g, color, font: 'italic 16px ' + FONT, dx: o[0], dy: o[1] });
      if (leads[g]) leaders.push({ x: xs[i], y: ys[i], from: leads[g][0], to: leads[g][1], color });
    });
    addLabels(sig[0], sig[1], sig[2], '#000');
    addLabels(mapk[0], mapk[1], mapk[2], MAPK);
    new Chart(c, {
      type: 'line',
      data: { datasets: [
        dash([{ x: 0, y: E_YMIN }, { x: 0, y: E_YMAX }]),
        dash([{ x: xMin, y: sigLine }, { x: xMax, y: sigLine }]),
        dots(pts(gray[0], gray[1]), 3.8, '#bdbdbd', 4),
        dots(pts(sig[1], sig[2]), 4.8, '#000', 2),
        dots(pts(mapk[1], mapk[2]), 4.8, MAPK, 1)
      ] },
      options: {
        layout: lay(pad),
        scales: {
          x: { type: 'linear', min: xMin, max: xMax, afterBuildTicks: setTicks(xTicks),
               ticks: { callback: v => (v < 0 ? '\u2212' + Math.abs(v) : String(v)), font: { size: 19 }, padding: 3 },
               grid: tickGrid(5, 1.5), border: { display: false }, afterFit: s => { s.height = 34; } },
          y: { min: E_YMIN, max: E_YMAX, afterBuildTicks: setTicks(eYTicks),
               ticks: { font: { size: 19 }, padding: 3 },
               grid: tickGrid(5, 1.5), border: { display: false }, afterFit: s => { s.width = 42; } }
        }
      },
      plugins: [frame(2), annot(items, leaders)]
    });
  }

  volcano([93, 1013, 432, 1322], -4.64, 2.71, e1XTicks, [e1GrayX, e1GrayY],
    [e1SigGenes, e1SigX, e1SigY], [e1MapkGenes, e1MapkX, e1MapkY],
    { NRAS: [13, -12], KRAS: [22, 15], RET: [0, 16], NF1: [3, -14], EGFR: [15, -12], ERBB2: [-5, -22],
      HRAS: [-45, -1], RAF1: [-25, 9], ALK: [22, -8], KIT: [-30, 25], APC: [-11, 14], RNF43: [-40, 0],
      SETD2: [5, -18], AKT1: [-11, 17], SMAD4: [16, -12], TGFBR2: [22, -15], STK11: [29, -19] },
    { ERBB2: [[-4, -13], [0, -4]], HRAS: [[-19, -1], [-4, 0]], KIT: [[-21, 21], [-2, 2]], STK11: [[10, -11], [2, -2]] });

  volcano([475, 1013, 814, 1322], -2.64, 1.65, e2XTicks, [e2GrayX, e2GrayY],
    [e2SigGenes, e2SigX, e2SigY], [e2MapkGenes, e2MapkX, e2MapkY],
    { KRAS: [16, -12], EGFR: [15, -12], NRAS: [-10, -12], ERG: [24, 0], APC: [15, -12] }, {});

  volcano([857, 1013, 1196, 1322], -1.83, 2.46, e3XTicks, [e3GrayX, e3GrayY],
    [e3SigGenes, e3SigX, e3SigY], [e3MapkGenes, e3MapkX, e3MapkY],
    { EGFR: [18, 15], KRAS: [15, -12], NF1: [16, -20], HRAS: [-6, -16], STK11: [-29, -1], ARID2: [-15, 30],
      ATRX: [2, -15], NF2: [24, -4], KMT2A: [21, 21] },
    { NF1: [[8, -8], [2, -3]], HRAS: [[-3, -8], [0, -3]], ARID2: [[-8, 23], [-1, 4]], KMT2A: [[8, 13], [1, 3]] });
</script>
</body>
</html>
